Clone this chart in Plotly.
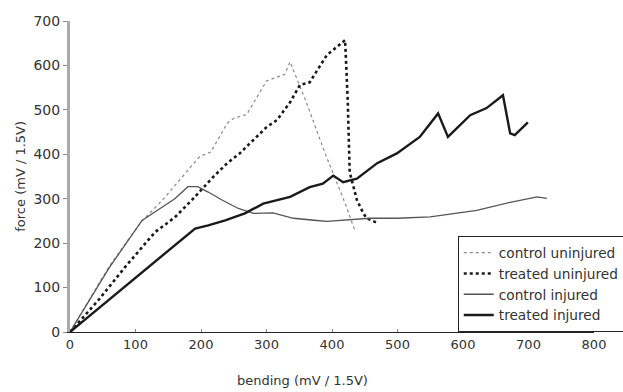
import plotly.graph_objects as go

# control uninjured
cu_x = [0, 30, 60, 90, 110, 140, 160, 175, 198, 215, 240, 250, 270, 300, 318, 328, 336, 360, 390, 420, 435]
cu_y = [0, 75, 148, 210, 250, 295, 330, 357, 395, 405, 470, 481, 490, 565, 574, 580, 608, 520, 400, 290, 228]

# treated uninjured
tu_x = [0, 43, 84, 130, 160, 188, 218, 240, 259, 280, 300, 316, 336, 351, 366, 392, 417, 420, 424, 427, 438, 448, 453, 462, 470]
tu_y = [0, 71, 146, 225, 258, 300, 348, 380, 402, 432, 461, 477, 517, 556, 562, 623, 653, 657, 522, 360, 297, 267, 256, 250, 245]

# control injured
ci_x = [0, 60, 110, 134, 160, 180, 195, 211, 232, 257, 280, 310, 341, 377, 392, 458, 499, 550, 580, 621, 672, 713, 728]
ci_y = [0, 145, 251, 274, 300, 327, 327, 315, 297, 278, 267, 268, 256, 251, 249, 256, 256, 259, 266, 274, 292, 304, 301]

# treated injured
ti_x = [0, 100, 191, 211, 237, 267, 295, 336, 366, 386, 402, 417, 438, 469, 499, 534, 562, 577, 611, 636, 661, 672, 679, 699]
ti_y = [0, 122, 233, 240, 251, 267, 289, 304, 326, 334, 352, 337, 345, 380, 402, 439, 492, 439, 488, 504, 533, 447, 443, 472]

x_ticks = [0, 100, 200, 300, 400, 500, 600, 700, 800]
y_ticks = [0, 100, 200, 300, 400, 500, 600, 700]

fig = go.Figure()
fig.add_trace(go.Scatter(x=cu_x, y=cu_y, mode="lines", name="control uninjured",
                         line=dict(color="#8a8a8a", width=1.2, dash="dot")))
fig.add_trace(go.Scatter(x=tu_x, y=tu_y, mode="lines", name="treated uninjured",
                         line=dict(color="#1a1a1a", width=2.6, dash="dot")))
fig.add_trace(go.Scatter(x=ci_x, y=ci_y, mode="lines", name="control injured",
                         line=dict(color="#555555", width=1.3)))
fig.add_trace(go.Scatter(x=ti_x, y=ti_y, mode="lines", name="treated injured",
                         line=dict(color="#1a1a1a", width=2.4)))

font_family = "DejaVu Sans"
fig.update_layout(
    width=623, height=392,
    margin=dict(l=70, r=29, t=21, b=60, autoexpand=False),
    paper_bgcolor="white", plot_bgcolor="white",
    font=dict(family=font_family, size=13, color="#333333"),
    showlegend=True,
    legend=dict(x=0.74, y=0.308, xanchor="left", yanchor="top",
                bordercolor="#222222", borderwidth=1, bgcolor="white",
                font=dict(size=13.7, color="#333333"),
                tracegroupgap=0, itemwidth=30),
    xaxis=dict(range=[0, 800], tickvals=x_ticks, showgrid=False, zeroline=False,
               showline=True, linecolor="#222222", linewidth=1,
               ticks="inside", ticklen=3, tickcolor="#888888",
               tickfont=dict(size=13)),
    yaxis=dict(range=[0, 700], tickvals=y_ticks, showgrid=False, zeroline=False,
               showline=True, linecolor="#aaaaaa", linewidth=3,
               ticks="outside", ticklen=4, tickcolor="#888888",
               tickfont=dict(size=14)),
    annotations=[
        dict(text="bending (mV / 1.5V)", xref="paper", yref="paper",
             x=0.443, y=-0.155, xanchor="center", yanchor="middle",
             showarrow=False, font=dict(size=13, color="#333333")),
        dict(text="force (mV / 1.5V)", xref="paper", yref="paper",
             x=-0.095, y=0.5, xanchor="center", yanchor="middle", textangle=-90,
             showarrow=False, font=dict(size=13, color="#333333")),
    ],
)

fig.write_html("out.html")
